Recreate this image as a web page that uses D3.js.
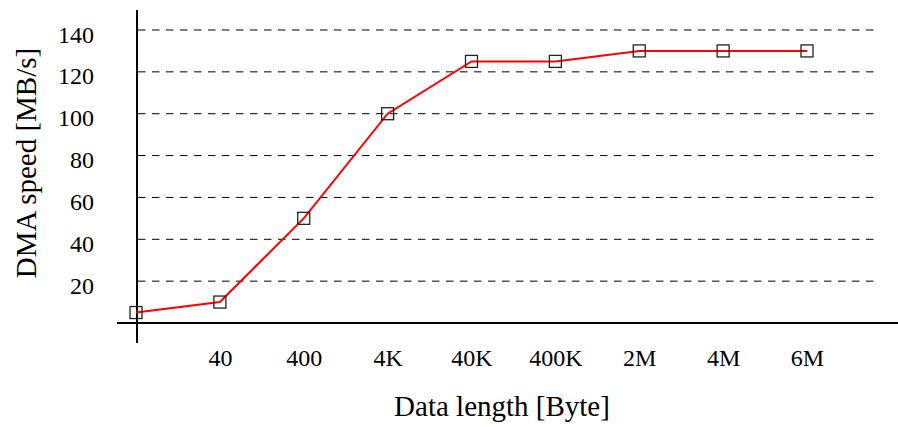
<!DOCTYPE html>
<html><head><meta charset="utf-8">
<script src="https://cdn.jsdelivr.net/npm/d3@7"></script>
<style>body{margin:0;background:#fff}svg{display:block}</style>
</head><body>
<svg id="c" width="898" height="427"></svg>
<script>
const categories = ["4","40","400","4K","40K","400K","2M","4M","6M"];
const tickLabels = ["","40","400","4K","40K","400K","2M","4M","6M"];
const speed = [5,10,50,100,125,125,130,130,130];
const yTicks = [20,40,60,80,100,120,140];

const svg = d3.select("#c");
const font = "'Liberation Serif','Times New Roman',serif";
const x = d3.scalePoint().domain(categories).range([136,807]);
const y = d3.scaleLinear().domain([0,140]).range([323,30]);

// gridlines
svg.append("g").selectAll("line").data(yTicks).join("line")
  .attr("x1",138).attr("x2",880)
  .attr("y1",d=>y(d)).attr("y2",d=>y(d))
  .attr("stroke","#000").attr("stroke-width",1)
  .attr("stroke-dasharray","7.5,6.5");

// y axis
const ya = svg.append("g").attr("transform","translate(137,0)")
  .call(d3.axisLeft(y).tickValues(yTicks).tickSize(0).tickPadding(43));
ya.select(".domain").remove();
ya.selectAll("text").attr("font-family",font).attr("font-size",24).attr("fill","#000").attr("dy","0.5em");
svg.append("line").attr("x1",137).attr("x2",137).attr("y1",10).attr("y2",343)
  .attr("stroke","#000").attr("stroke-width",2);

// x axis
const xa = svg.append("g").attr("transform","translate(0,323)")
  .call(d3.axisBottom(x).tickSize(0).tickPadding(26).tickFormat((d,i)=>tickLabels[i]));
xa.select(".domain").remove();
xa.selectAll("text").attr("font-family",font).attr("font-size",24).attr("fill","#000");
svg.append("line").attr("x1",117).attr("x2",898).attr("y1",323).attr("y2",323)
  .attr("stroke","#000").attr("stroke-width",2);

// line
const pts = categories.map((c,i)=>[x(c), y(speed[i])]);
svg.append("path").attr("d",d3.line()(pts))
  .attr("fill","none").attr("stroke","#ff0000").attr("stroke-width",2);

// markers
svg.append("g").selectAll("rect").data(pts).join("rect")
  .attr("x",d=>d[0]-6).attr("y",d=>d[1]-6).attr("width",12).attr("height",12)
  .attr("fill","none").attr("stroke","#222").attr("stroke-width",1.3);

// axis titles
svg.append("text").attr("x",502).attr("y",416).attr("text-anchor","middle")
  .attr("font-family",font).attr("font-size",29).text("Data length [Byte]");
svg.append("text").attr("transform","translate(36,163) rotate(-90)").attr("text-anchor","middle")
  .attr("font-family",font).attr("font-size",29).text("DMA speed [MB/s]");
</script>
</body></html>
